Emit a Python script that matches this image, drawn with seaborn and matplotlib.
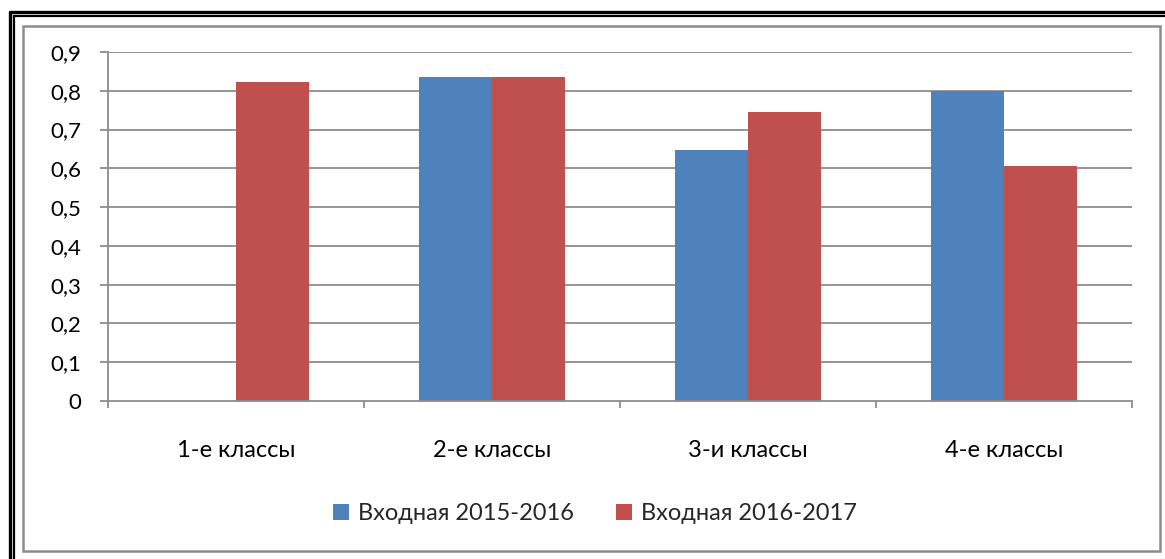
import matplotlib
matplotlib.use("Agg")
import matplotlib.pyplot as plt
import seaborn as sns
import pandas as pd
import numpy as np
from matplotlib.patches import Rectangle, Patch
from matplotlib.lines import Line2D

categories = ["1-е классы", "2-е классы", "3-и классы", "4-е классы"]
series_names = ["Входная 2015-2016", "Входная 2016-2017"]
values_2015 = [0.0, 0.835, 0.648, 0.800]
values_2016 = [0.823, 0.835, 0.746, 0.607]
y_ticks = [0, 0.1, 0.2, 0.3, 0.4, 0.5, 0.6, 0.7, 0.8, 0.9]
y_tick_labels = ["0", "0,1", "0,2", "0,3", "0,4", "0,5", "0,6", "0,7", "0,8", "0,9"]
colors = ["#4F81BD", "#C0504D"]

df = pd.DataFrame({
    "cat": categories * 2,
    "series": [series_names[0]] * 4 + [series_names[1]] * 4,
    "value": values_2015 + values_2016,
})

sns.set_theme(style="white")
plt.rcParams["font.family"] = ["Lato", "DejaVu Sans"]

W, H = 1165, 559
fig = plt.figure(figsize=(W / 100, H / 100), dpi=100)

def fx(px):
    return px / W

def fy(py):
    return 1 - py / H

ax = fig.add_axes([fx(108), fy(401), fx(1132) - fx(108), fy(52) - fy(401)])

sns.barplot(data=df, x="cat", y="value", hue="series", order=categories,
            hue_order=series_names, palette=colors, width=0.57, gap=0,
            saturation=1, linewidth=0, ax=ax, legend=False)

ax.set_xlim(-0.5, 3.5)
ax.set_ylim(0, 0.9)
ax.set_yticks(y_ticks)
ax.set_yticklabels(y_tick_labels)
grid_c = "#8C8C8C"
for t in y_ticks[1:]:
    ax.axhline(t, color=grid_c, lw=1.3, zorder=0)
ax.set_axisbelow(True)

for s in ["top", "right"]:
    ax.spines[s].set_visible(False)
for s in ["left", "bottom"]:
    ax.spines[s].set_color(grid_c)
    ax.spines[s].set_linewidth(1.3)

ax.tick_params(axis="y", direction="out", length=6, width=1.3, color=grid_c,
               pad=13, labelsize=16, labelcolor="black", left=True)
ax.set_xticks(range(4))
ax.set_xticklabels(categories)
ax.tick_params(axis="x", which="major", length=0, pad=28, labelsize=17,
               labelcolor="black")
ax.set_xticks([-0.5, 0.5, 1.5, 2.5, 3.5], minor=True)
ax.tick_params(axis="x", which="minor", direction="out", length=5, width=1.3,
               color=grid_c, bottom=True)
ax.set_xlabel("")
ax.set_ylabel("")

handles = [Patch(facecolor=c, edgecolor="none") for c in colors]
fig.legend(handles, series_names, loc="center", bbox_to_anchor=(fx(595), fy(514)),
           ncol=2, frameon=False, fontsize=17, handlelength=0.68, handleheight=0.68,
           handletextpad=0.38, columnspacing=1.75)

# inner gray frame
fig.patches.append(Rectangle((fx(22.5), fy(551)), fx(1160) - fx(22.5), fy(25.5) - fy(551),
                             transform=fig.transFigure, fill=False,
                             edgecolor="#8C8C8C", lw=1.8))
# outer double black frame (left and top visible)
for px_off, lw in [(9.5, 2.4), (13.5, 1.6)]:
    fig.lines.append(Line2D([fx(px_off), fx(px_off)], [0, fy(px_off + 2)],
                            transform=fig.transFigure, color="black", lw=lw))
    fig.lines.append(Line2D([fx(px_off), 1], [fy(px_off + 2), fy(px_off + 2)],
                            transform=fig.transFigure, color="black", lw=lw))

fig.savefig("out.png", dpi=100)
